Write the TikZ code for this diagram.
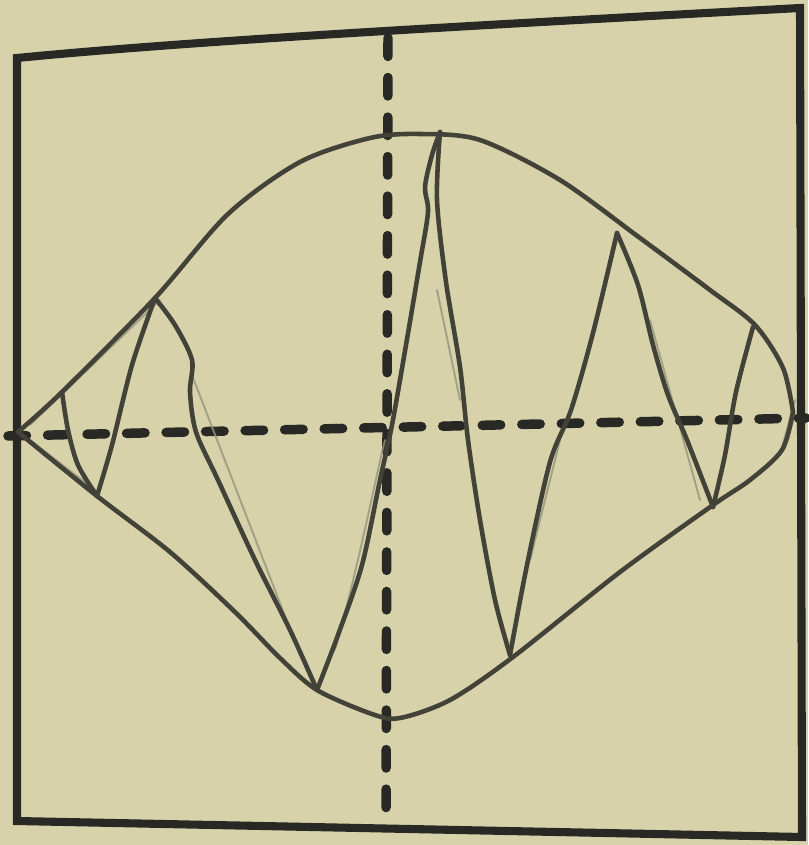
\documentclass[tikz,border=0pt]{standalone}
\usetikzlibrary{calc}
\definecolor{paper}{RGB}{216,210,170}
\definecolor{ink}{RGB}{40,40,36}
\definecolor{pen}{RGB}{66,66,56}
\definecolor{pencil}{RGB}{150,148,125}
\tikzset{
    % Frame and axes
    frameline/.style={draw=ink, line width=4.6pt, line join=miter},
    axisline/.style={draw=ink, line width=5.4pt, line cap=round, dash pattern=on 10.5pt off 12pt},
    % Hand drawn strokes
    envelope/.style={draw=pen, line width=2.6pt, line cap=round, line join=round},
    wave/.style={draw=pen, line width=2.6pt, line cap=round, line join=round},
    sketchline/.style={draw=pencil, line width=1.1pt, line cap=round, opacity=0.8}
}
\begin{document}
\begin{tikzpicture}[x=0.02cm, y=-0.02cm]

    % Paper
    \fill[paper] (0,0) rectangle (808,845);
    \useasboundingbox (0,0) rectangle (808,845);

    % Frame
    \draw[frameline] (800,8) .. controls (500,24) and (200,40) .. (17,58) -- (17,821) -- (802,837) -- cycle;

    % Axes
    \draw[axisline] (388,38) -- (386,828);
    \draw[axisline] (8,436) -- (806,418);

    % Pencil guide lines
    \draw[sketchline] (30,425) -- (160,300);
    \draw[sketchline] (192,375) -- (300,655);
    \draw[sketchline] (335,650) .. controls (360,560) and (375,480) .. (385,440);
    \draw[sketchline] (437,290) -- (460,400);
    \draw[sketchline] (560,440) -- (530,560);
    \draw[sketchline] (650,320) -- (700,500);
    \draw[sketchline] (795,400) -- (780,455);
    \draw[sketchline] (30,440) -- (95,490);

    % Envelope
    \draw[envelope] plot[smooth, tension=0.5] coordinates {
        (18,432) (62,392) (155,298) (228,214) (300,162) (370,138) (420,134)
        (480,140) (560,180) (640,238) (710,290) (755,325) (783,368) (793,412)};
    \draw[envelope] plot[smooth, tension=0.5] coordinates {
        (793,412) (782,450) (750,480) (713,505) (620,572) (513,657) (450,700)
        (400,718) (372,714) (317,690) (280,658) (235,612) (170,552) (97,496) (18,432)};

    % Zigzag
    \draw[wave] plot[smooth, tension=0.5] coordinates {(62,392) (68,430) (78,465) (97,496)};
    \draw[wave] plot[smooth, tension=0.5] coordinates {(97,496) (112,445) (132,365) (155,298)};
    \draw[wave] plot[smooth, tension=0.5] coordinates {
        (155,298) (175,325) (192,360) (190,392) (196,432) (218,480) (255,560) (290,630) (317,690)};
    \draw[wave] plot[smooth, tension=0.5] coordinates {
        (317,690) (338,635) (362,565) (380,480) (392,425) (406,345) (420,262) (428,212) (425,187) (432,155) (440,132)};
    \draw[wave] plot[smooth, tension=0.5] coordinates {
        (440,132) (437,200) (446,282) (460,367) (468,440) (480,520) (495,600) (510,655)};
    \draw[wave] plot[smooth, tension=0.5] coordinates {
        (510,655) (527,565) (550,462) (571,410) (593,333) (617,233)};
    \draw[wave] plot[smooth, tension=0.5] coordinates {
        (617,233) (638,285) (653,345) (668,395) (687,440) (713,507)};
    \draw[wave] plot[smooth, tension=0.5] coordinates {
        (713,507) (725,455) (736,392) (753,327)};

\end{tikzpicture}
\end{document}
